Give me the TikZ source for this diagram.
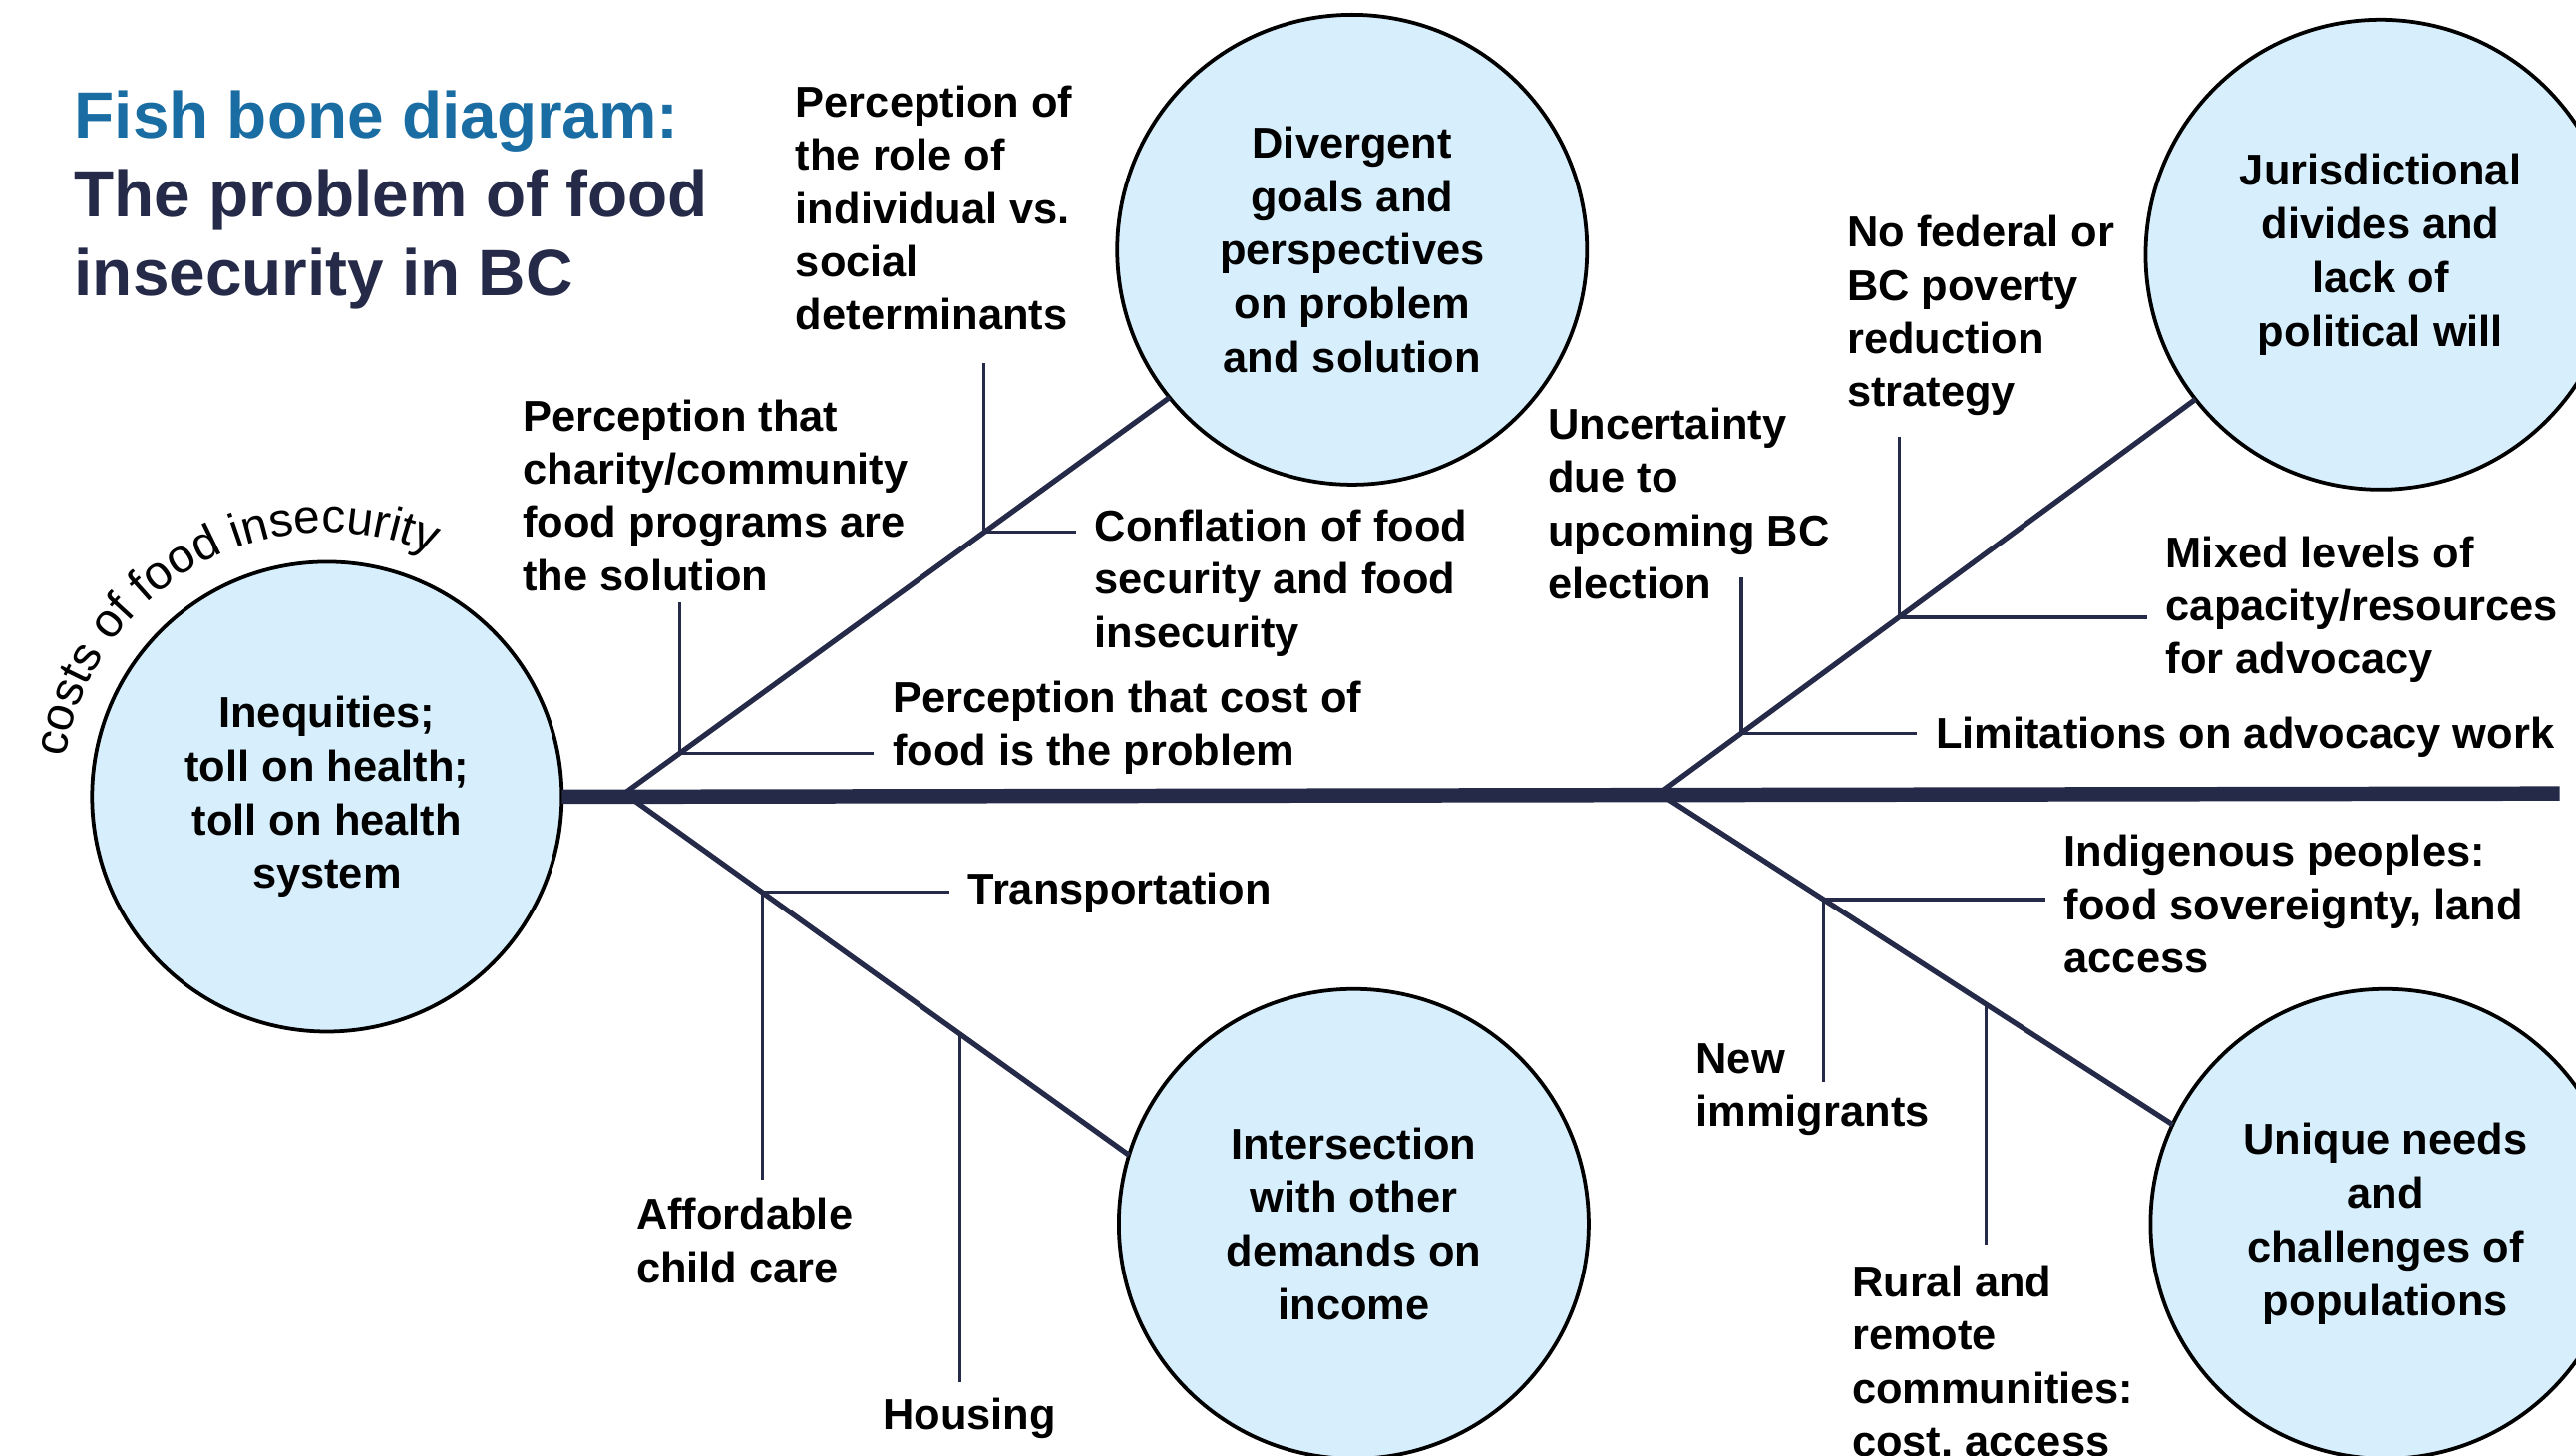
\documentclass[tikz,border=0pt]{standalone}
\usepackage{fontspec}
\setmainfont{Liberation Sans}
\usepackage{tikz}
\usetikzlibrary{positioning, calc, decorations.text}

\definecolor{navyline}{HTML}{252A48}
\definecolor{bubble}{HTML}{D7EEFC}
\definecolor{titleblue}{HTML}{1A6DA3}

\begin{document}
\begin{tikzpicture}[x=0.02cm, y=-0.02cm,
        cause/.style={circle, draw=black, fill=bubble, line width=1.3pt, minimum size=5.72cm, inner sep=0pt, outer sep=0pt, align=center, font=\bfseries\fontsize{15}{18.6}\selectfont, execute at begin node={\rule{0pt}{15pt}}},
        label_block/.style={align=left, inner sep=0pt, anchor=north west, font=\bfseries\fontsize{15}{18.4}\selectfont},
        spine/.style={draw=navyline, line width=5pt},
        bone/.style={draw=navyline, line width=1.8pt},
        rib/.style={draw=navyline, line width=1.1pt},
        to_label/.style={rib, shorten >=0.22cm}]

        \clip (0,0) rectangle (1568,886);

        % Title
        \node [anchor=north west, inner sep=0pt, align=left, text=navyline, font=\bfseries\fontsize{22.7}{27.3}\selectfont] (title) at (45,55) {\textcolor{titleblue}{Fish bone diagram:}\\The problem of food\\insecurity in BC};

        % Head and cause circles
        \node [cause] (head) at (199,485) {Inequities;\\toll on health;\\toll on health\\system};
        \node [cause] (goals) at (823,152) {Divergent\\goals and\\perspectives\\on problem\\and solution};
        \node [cause] (income) at (824,745) {Intersection\\with other\\demands on\\income};
        \node [cause] (politics) at (1449,155) {Jurisdictional\\divides and\\lack of\\political will};
        \node [cause] (groups) at (1452,745) {Unique needs\\and\\challenges of\\populations};

        % Curved caption over the head
        \path [decorate, decoration={text along path, text align=center, text={|\fontsize{16.5}{19}\selectfont|costs of food insecurity}}] (head.center) ++(-180:161) arc[start angle=-180, end angle=-58, radius=161];

        % Labels
        \node [label_block] (charity_txt) at (318,243) {Perception that\\charity/community\\food programs are\\the solution};
        \node [label_block] (role_txt) at (484,52) {Perception of\\the role of\\individual vs.\\social\\determinants};
        \node [label_block] (conflate_txt) at (666,310) {Conflation of food\\security and food\\insecurity};
        \node [label_block] (cost_txt) at (543,414) {Perception that cost of\\food is the problem};
        \node [label_block] (transport_txt) at (589,531) {Transportation};
        \node [label_block] (childcare_txt) at (387,729) {Affordable\\child care};
        \node [label_block] (housing_txt) at (537,851) {Housing};
        \node [label_block] (election_txt) at (942,248) {Uncertainty\\due to\\upcoming BC\\election};
        \node [label_block] (strategy_txt) at (1124,131) {No federal or\\BC poverty\\reduction\\strategy};
        \node [label_block] (capacity_txt) at (1318,326) {Mixed levels of\\capacity/resources\\for advocacy};
        \node [label_block] (limits_txt) at (1178,436) {Limitations on advocacy work};
        \node [label_block] (indigenous_txt) at (1256,508) {Indigenous peoples:\\food sovereignty, land\\access};
        \node [label_block] (immigrants_txt) at (1032,635) {New\\immigrants};
        \node [label_block] (rural_txt) at (1127,770) {Rural and\\remote\\communities:\\cost, access};

        % Spine and bones
        \coordinate (j_left) at (380,483);
        \coordinate (j_right) at (1010,483);
        \coordinate (tail) at (1558,483);
        \draw [spine] (head.east) -- (tail);
        \draw [bone] (j_left) -- (goals.219) coordinate[pos=0.102] (r_cost) coordinate[pos=0.66] (r_conflate);
        \draw [bone] (j_left) -- (income.163) coordinate[pos=0.273] (r_transport) coordinate[pos=0.664] (r_housing);
        \draw [bone] (j_right) -- (politics.218) coordinate[pos=0.153] (r_limits) coordinate[pos=0.447] (r_capacity);
        \draw [bone] (j_right) -- (groups.155) coordinate[pos=0.32] (r_indigenous) coordinate[pos=0.637] (r_rural);

        % Ribs
        \draw [rib] (r_cost) -- ++(0,-92) coordinate (top_cost);
        \draw [to_label] (r_cost) -- (r_cost -| cost_txt.west);
        \draw [rib] (r_conflate) -- ++(0,-103) coordinate (top_conflate);
        \draw [to_label] (r_conflate) -- (r_conflate -| conflate_txt.west);
        \draw [to_label] (r_transport) -- (r_transport -| transport_txt.west);
        \draw [rib] (r_transport) -- ++(0,175) coordinate (end_childcare);
        \draw [rib] (r_housing) -- ++(0,212) coordinate (end_housing);
        \draw [rib] (r_limits) -- ++(0,-95) coordinate (top_election);
        \draw [to_label] (r_limits) -- (r_limits -| limits_txt.west);
        \draw [rib] (r_capacity) -- ++(0,-110) coordinate (top_strategy);
        \draw [to_label] (r_capacity) -- (r_capacity -| capacity_txt.west);
        \draw [to_label] (r_indigenous) -- (r_indigenous -| indigenous_txt.west);
        \draw [rib] (r_indigenous) -- ++(0,111) coordinate (end_immigrants);
        \draw [rib] (r_rural) -- ++(0,146) coordinate (end_rural);
    \end{tikzpicture}
\end{document}
